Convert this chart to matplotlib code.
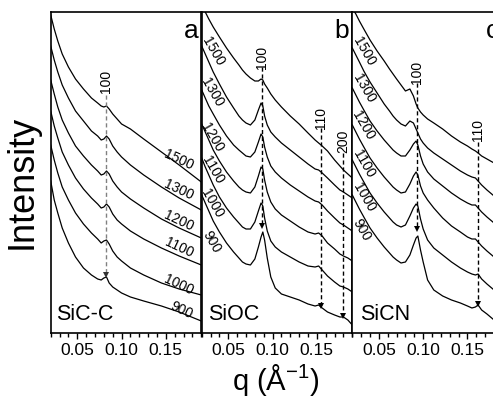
import matplotlib
matplotlib.use("Agg")
import matplotlib.pyplot as plt
from matplotlib.ticker import MultipleLocator, FixedLocator, FixedFormatter

plt.rcParams['font.family'] = ['Liberation Sans', 'DejaVu Sans']
plt.rcParams['mathtext.fontset'] = 'custom'
plt.rcParams['mathtext.rm'] = 'Liberation Sans'
plt.rcParams['mathtext.it'] = 'Liberation Sans:italic'

temps = ['1500', '1300', '1200', '1100', '1000', '900']

# ---------------- panel a : SiC-C ----------------
q_a = [0.020, 0.024, 0.028, 0.033, 0.040, 0.048, 0.057, 0.066, 0.073, 0.077, 0.080,
       0.083, 0.086, 0.090, 0.095, 0.100, 0.110, 0.125, 0.145, 0.165, 0.190]
a_1500 = [318, 304, 292, 279, 266, 254, 244, 235, 230, 227, 226, 227, 224, 219, 214, 209, 204, 194, 181, 168, 151]
a_1300 = [287, 273, 261, 248, 235, 222, 212, 202, 197, 193, 194, 197, 194, 187, 181, 176, 168, 158, 146, 135, 123]
a_1200 = [253, 239, 226, 213, 200, 187, 177, 168, 162, 158, 159, 162, 159, 152, 146, 141, 134, 125, 114, 105, 95]
a_1100 = [222, 207, 195, 181, 168, 155, 144, 135, 129, 125, 126, 129, 126, 119, 113, 109, 102, 94, 85, 77, 68]
a_1000 = [188, 173, 160, 146, 133, 120, 109, 100, 94, 90, 92, 93, 89, 82, 76, 72, 65, 58, 50, 44, 38]
a_900 = [152, 133, 120, 105, 90, 76, 65, 58, 54, 53, 55, 56, 50, 46, 43, 40, 36, 32, 27, 21, 12]

# ---------------- panel b : SiOC ----------------
q_b = [0.020, 0.024, 0.028, 0.033, 0.040, 0.048, 0.056, 0.062, 0.066, 0.070, 0.075, 0.080,
       0.084, 0.087, 0.089, 0.091, 0.094, 0.098, 0.103, 0.110, 0.120, 0.130, 0.140, 0.148,
       0.152, 0.156, 0.162, 0.170, 0.176, 0.180, 0.185, 0.190]
b_1500 = [328, 321, 314, 306, 296, 285, 275, 268, 263, 259, 255, 252, 252, 254, 253, 249, 245, 239, 233, 226,
          217, 209, 200, 193, 190, 187, 182, 173, 167, 163, 159, 155]
b_1300 = [287, 279, 271, 261, 249, 236, 225, 217, 213, 210, 208, 213, 223, 230, 227, 217, 208, 201, 196, 190,
          183, 176, 169, 164, 163, 160, 155, 148, 143, 141, 138, 135]
b_1200 = [243, 235, 227, 219, 208, 197, 188, 183, 180, 177, 176, 181, 191, 199, 196, 186, 176, 167, 161, 155,
          148, 142, 136, 132, 131, 128, 122, 115, 110, 108, 105, 102]
b_1100 = [209, 201, 193, 183, 172, 161, 152, 146, 143, 141, 140, 146, 157, 166, 164, 153, 141, 131, 124, 118,
          112, 106, 101, 99, 100, 97, 90, 84, 79, 77, 75, 72]
b_1000 = [175, 166, 158, 148, 136, 125, 116, 110, 106, 104, 104, 111, 122, 130, 127, 115, 102, 92, 86, 81,
          76, 71, 67, 66, 67, 63, 57, 51, 47, 46, 44, 41]
b_900 = [138, 130, 122, 112, 101, 90, 81, 75, 71, 69, 68, 74, 86, 96, 101, 93, 75, 56, 45, 39,
         36, 33, 29, 27, 28, 25, 21, 18, 16, 16, 13, 8]

# ---------------- panel c : SiCN ----------------
q_c = [0.020, 0.024, 0.028, 0.033, 0.040, 0.048, 0.056, 0.062, 0.066, 0.070, 0.075, 0.080,
       0.085, 0.089, 0.092, 0.094, 0.097, 0.100, 0.105, 0.112, 0.122, 0.132, 0.142, 0.150,
       0.155, 0.159, 0.162, 0.166, 0.172, 0.180, 0.190]
c_1500 = [325, 319, 312, 304, 293, 282, 272, 264, 259, 254, 248, 242, 244, 237, 229, 225, 221, 218, 214, 210,
          204, 197, 191, 187, 184, 182, 180, 177, 174, 170, 165]
c_1300 = [285, 278, 271, 262, 251, 240, 229, 222, 217, 213, 209, 207, 212, 210, 204, 200, 194, 190, 185, 180,
          174, 168, 162, 158, 156, 155, 152, 148, 143, 137, 130]
c_1200 = [245, 238, 231, 223, 212, 202, 193, 187, 183, 180, 177, 177, 183, 189, 192, 188, 177, 169, 161, 154,
          147, 140, 134, 130, 128, 128, 125, 121, 116, 110, 103]
c_1100 = [208, 201, 194, 186, 175, 165, 156, 150, 146, 143, 140, 141, 149, 157, 161, 158, 147, 140, 133, 125,
          115, 107, 101, 96, 94, 94, 91, 87, 82, 76, 69]
c_1000 = [173, 166, 159, 151, 140, 130, 121, 115, 111, 108, 106, 108, 117, 125, 129, 127, 114, 104, 93, 85,
          78, 71, 65, 61, 59, 58, 59, 54, 49, 43, 36]
c_900 = [138, 131, 124, 116, 105, 95, 86, 80, 76, 73, 70, 71, 78, 88, 95, 97, 83, 71, 53, 43,
         37, 33, 30, 27, 25, 26, 28, 23, 19, 13, 6]

samples = ['SiC-C', 'SiOC', 'SiCN']
letters = ['a', 'b', 'c']

# label positions (q, intensity)
a_lab_q = [0.1647, 0.1647, 0.1647, 0.1647, 0.1647, 0.168]
a_lab_I = [173, 143, 112, 85, 48, 23]
b_lab_q = [0.0333, 0.0322, 0.0322, 0.0322, 0.0322, 0.031]
b_lab_I = [282, 241, 196, 163, 130, 91]
c_lab_q = [0.0333, 0.0333, 0.0322, 0.0333, 0.0333, 0.031]
c_lab_I = [282, 245, 208, 169, 136, 103]

# reflections: (label, q, label_I, line_top_I, tip_I)
a_refl = [('100', 0.082, 252, 238, 56)]
b_refl = [('100', 0.0886, 276, 266, 105), ('110', 0.1545, 215, 205, 25), ('200', 0.1795, 192, 180, 15)]
c_refl = [('100', 0.093, 261, 250, 102), ('110', 0.1614, 203, 191, 27)]

panels = [
    (q_a, [a_1500, a_1300, a_1200, a_1100, a_1000, a_900], a_lab_q, a_lab_I, -25, a_refl, '#808080'),
    (q_b, [b_1500, b_1300, b_1200, b_1100, b_1000, b_900], b_lab_q, b_lab_I, -60, b_refl, 'black'),
    (q_c, [c_1500, c_1300, c_1200, c_1100, c_1000, c_900], c_lab_q, c_lab_I, -60, c_refl, 'black'),
]

W, H = 493, 398
fig = plt.figure(figsize=(W / 100, H / 100), dpi=100)
lefts = [50.7, 201.7, 352.3]
for i, (q, curves, lq, lI, rot, refl, rcol) in enumerate(panels):
    ax = fig.add_axes([lefts[i] / W, 65 / H, 150.6 / W, 321.3 / H])
    for y in curves:
        ax.plot(q, y, color='black', lw=0.9, solid_joinstyle='round')
    for t, x, yv in zip(temps, lq, lI):
        ax.text(x, yv, t, rotation=rot, ha='center', va='center', fontsize=10,
                rotation_mode='anchor')
    for lab, x, ly, ltop, tip in refl:
        ax.text(x, ly, lab, rotation=90, ha='center', va='center', fontsize=10)
        ax.plot([x, x], [ltop, tip + 3], color=rcol, lw=1.0, ls=(0, (3, 2)))
        ax.plot([x], [tip + 2.5], marker='v', color='black' if i else '#333333',
                markersize=5, markeredgewidth=0)
    ax.text(0.1785, 302, letters[i], ha='center', va='center', fontsize=19)
    ax.text(0.0255 + 0.0015 * i, 18, samples[i], ha='left', va='center', fontsize=15.5)
    ax.set_xlim(0.02, 0.19)
    ax.set_ylim(0, 321.3)
    ax.xaxis.set_major_locator(FixedLocator([0.05, 0.10, 0.15]))
    ax.xaxis.set_major_formatter(FixedFormatter(['0.05', '0.10', '0.15']))
    ax.xaxis.set_minor_locator(MultipleLocator(0.01))
    ax.tick_params(axis='x', which='major', direction='out', length=4, width=1,
                   labelsize=12.5, pad=3)
    ax.tick_params(axis='x', which='minor', direction='out', length=3, width=1)
    ax.set_yticks([])
    for s in ax.spines.values():
        s.set_linewidth(1.2)

fig.text(22 / W, 1 - 182 / H, 'Intensity', rotation=90, ha='center', va='center', fontsize=26)
fig.text(276 / W, 1 - 380 / H, r'q (Å$^{-1}$)', ha='center', va='center', fontsize=21)

fig.savefig('out.png', dpi=100)
